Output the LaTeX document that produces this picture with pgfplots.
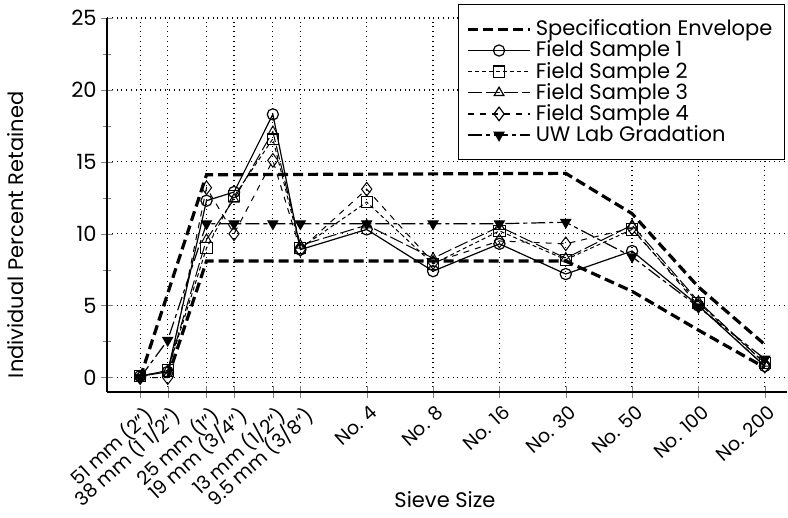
\documentclass[border=0pt]{standalone}
\usepackage{fontspec}
\setmainfont{Poppins}
\usepackage{pgfplots}
\pgfplotsset{compat=1.18}

\begin{document}
\fontsize{10.5}{12}\selectfont
\begin{tikzpicture}
\begin{axis}[
  name=ax,
  scale only axis, width=340pt, height=187pt,
  xmin=-0.5, xmax=9.75, ymin=-1, ymax=25,
  axis x line*=bottom, axis y line*=left,
  axis line style={line width=1pt, -},
  tick align=center, major tick length=6pt, minor tick length=4pt,
  xtick={0,0.415,1,1.415,2,2.415,3.415,4.415,5.415,6.415,7.415,8.415,9.415},
  xticklabels={51 mm (2"),38 mm (1 1/2"),25 mm (1"),19 mm (3/4"),13 mm (1/2"),9.5 mm (3/8"),No. 4,No. 8,No. 16,No. 30,No. 50,No. 100,No. 200},
  x tick label style={rotate=42, anchor=north east, inner sep=1pt, yshift=-2pt,
    font=\fontsize{9.5}{11}\selectfont},
  y tick label style={xshift=1.5pt},
  ytick={0,5,...,25}, minor y tick num=1,
  /pgf/number format/assume math mode=true,
  grid=major, major grid style={black, dotted, line width=0.6pt},
  xlabel={Sieve Size}, ylabel={Individual Percent Retained},
  xlabel style={at={(axis description cs:0.497,-0.289)}, anchor=center},
  ylabel style={at={(axis description cs:-0.135,0.42)}, anchor=center},
  legend cell align=left,
  legend style={at={(0.997,1.037)}, anchor=north east, draw=black, line width=0.6pt,
    font=\fontsize{10.5}{12}\selectfont, row sep=-3pt, inner xsep=4pt, inner ysep=5.5pt},
  legend image code/.code={\draw[mark repeat=2, mark phase=2]
    plot coordinates {(0cm,0cm) (0.55cm,0cm) (1.1cm,0cm)};},
  legend image post style={line width=0.6pt},
  mark size=2.8pt,
]
\addplot[black, line width=1.6pt, dash pattern=on 5pt off 2.5pt, legend image post style={line width=1.4pt}]
  coordinates {(0,0)(1,14.1)(6.415,14.2)(7.415,11.4)(8.415,6.3)(9.415,2.3)};
\addlegendentry{Specification Envelope}
\addplot[black, line width=1.6pt, dash pattern=on 5pt off 2.5pt, forget plot]
  coordinates {(0.415,0)(1,8.1)(6.415,8.1)(7.415,6.0)(8.415,3.3)(9.415,0.7)};
\addplot[black, line width=0.6pt, mark=o, mark options={solid, fill=white}]
  coordinates {(0,0.1)(0.415,0.4)(1,12.3)(1.415,12.9)(2,18.3)(2.415,8.9)(3.415,10.3)(4.415,7.4)(5.415,9.3)(6.415,7.2)(7.415,8.8)(8.415,5.0)(9.415,0.8)};
\addlegendentry{Field Sample 1}
\addplot[black, line width=0.5pt, dash pattern=on 2pt off 1.5pt, mark=square, mark options={solid, fill=white}]
  coordinates {(0,0.1)(0.415,0.5)(1,9.0)(1.415,12.6)(2,16.6)(2.415,9.0)(3.415,12.2)(4.415,7.9)(5.415,10.2)(6.415,8.2)(7.415,10.3)(8.415,5.2)(9.415,1.0)};
\addlegendentry{Field Sample 2}
\addplot[black, line width=0.5pt, dash pattern=on 7pt off 2pt, mark=triangle, mark options={solid, fill=white}]
  coordinates {(0,0.1)(0.415,0.5)(1,9.6)(1.415,12.4)(2,17.1)(2.415,9.2)(3.415,10.6)(4.415,8.3)(5.415,10.5)(6.415,8.3)(7.415,10.6)(8.415,5.3)(9.415,1.0)};
\addlegendentry{Field Sample 3}
\addplot[black, line width=0.5pt, dash pattern=on 3pt off 3pt, mark=diamond, mark size=3.4pt, mark options={solid, fill=white}]
  coordinates {(0,0.0)(0.415,0.0)(1,13.2)(1.415,10.0)(2,15.1)(2.415,8.9)(3.415,13.1)(4.415,8.0)(5.415,9.5)(6.415,9.3)(7.415,10.4)(8.415,5.0)(9.415,0.8)};
\addlegendentry{Field Sample 4}
\addplot[black, line width=0.6pt, dash pattern=on 7pt off 2pt on 2pt off 2pt, mark=triangle*, mark options={solid, fill=black, rotate=180}]
  coordinates {(0,0.0)(0.415,2.6)(1,10.7)(1.415,10.7)(2,10.7)(2.415,10.7)(3.415,10.7)(4.415,10.7)(5.415,10.7)(6.415,10.8)(7.415,8.4)(8.415,4.9)(9.415,1.3)};
\addlegendentry{UW Lab Gradation}
\end{axis}
\pgfresetboundingbox
\path ([shift={(-53.5pt,-63pt)}]ax.south west) rectangle ([shift={(0.5pt,9pt)}]ax.north east);
\end{tikzpicture}
\end{document}
